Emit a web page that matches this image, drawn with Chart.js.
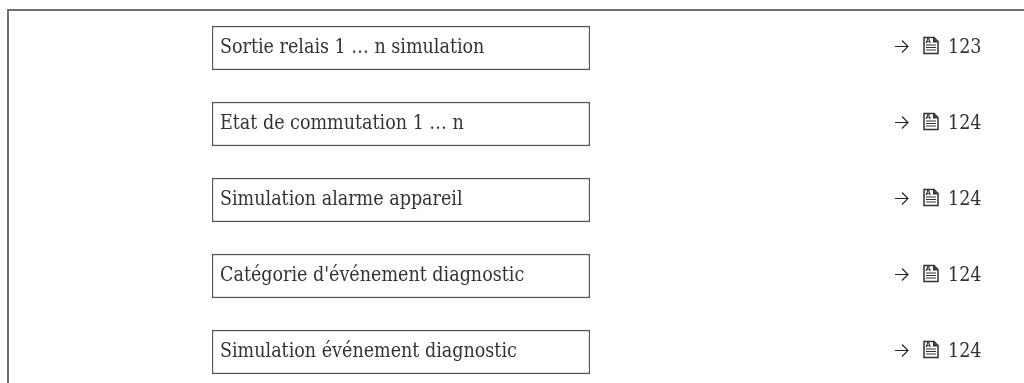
<!DOCTYPE html>
<html>
<head>
<meta charset="utf-8">
<script src="https://cdn.jsdelivr.net/npm/chart.js@4"></script>
<style>
html, body { margin: 0; padding: 0; background: #fff; overflow: hidden; height: 100%; }
#frame { position: absolute; left: 7px; top: 9px; right: 0; bottom: 0; border-left: 2px solid #707070; border-top: 2px solid #707070; }
canvas { position: absolute; left: 0; top: 0; }
</style>
</head>
<body>
<div id="frame"></div>
<!-- last row runs past the window, so the canvas is a bit taller than the page -->
<canvas id="chart1" width="1024" height="390"></canvas>
<script>
'use strict';
var parameters = ['Sortie relais 1 … n simulation', 'Etat de commutation 1 … n', 'Simulation alarme appareil', "Catégorie d'événement diagnostic", 'Simulation événement diagnostic'];
var boxValues = [1, 1, 1, 1, 1];
var pageRefs = [123, 124, 124, 124, 124];

var fontFamily = '"DejaVu Serif Condensed", "DejaVu Serif"';
var fontSize = 19.5;
var textColor = '#333';

var drawArrow = function (ctx, x, y) {
	ctx.strokeStyle = '#222';
	ctx.lineWidth = 1.1;
	ctx.beginPath();
	ctx.moveTo(x, y);
	ctx.lineTo(x + 13, y);
	ctx.moveTo(x + 7, y - 6);
	ctx.lineTo(x + 13, y);
	ctx.lineTo(x + 7, y + 6);
	ctx.stroke();
};

var drawDocIcon = function (ctx, x, y) {
	ctx.save();
	ctx.translate(x, y);
	ctx.strokeStyle = '#333';
	ctx.lineWidth = 1.5;
	ctx.beginPath();
	ctx.moveTo(1, -8);
	ctx.lineTo(11, -8);
	ctx.lineTo(15, -4);
	ctx.lineTo(15, 8);
	ctx.lineTo(1, 8);
	ctx.closePath();
	ctx.stroke();
	// folded corner
	ctx.fillStyle = '#333';
	ctx.beginPath();
	ctx.moveTo(10, -8);
	ctx.lineTo(15, -3);
	ctx.lineTo(10, -3);
	ctx.closePath();
	ctx.fill();
	ctx.lineWidth = 1;
	ctx.beginPath();
	ctx.moveTo(3, -0.5);
	ctx.lineTo(13, -0.5);
	ctx.moveTo(3, 2);
	ctx.lineTo(13, 2);
	ctx.moveTo(3, 4.5);
	ctx.lineTo(13, 4.5);
	ctx.stroke();
	ctx.font = 'bold 7px "DejaVu Sans"';
	ctx.textBaseline = 'alphabetic';
	ctx.textAlign = 'left';
	ctx.fillText('A', 2.5, -2.5);
	ctx.restore();
};

var pageRefPlugin = {
	id: 'pageRefs',
	afterDatasetsDraw: function (chart) {
		var ctx = chart.ctx;
		var yScale = chart.scales.y;
		ctx.save();
		ctx.textBaseline = 'middle';
		ctx.textAlign = 'left';
		for (var i = 0; i < pageRefs.length; i++) {
			var y = yScale.getPixelForValue(i);
			drawArrow(ctx, 895, y - 1.5);
			drawDocIcon(ctx, 923, y - 2.5);
			ctx.font = fontSize + 'px ' + fontFamily;
			ctx.fillStyle = textColor;
			ctx.fillText(String(pageRefs[i]), 948, y);
		}
		ctx.restore();
	}
};

new Chart(document.getElementById('chart1'), {
	type: 'bar',
	data: {
		labels: parameters,
		datasets: [{
			data: boxValues,
			backgroundColor: '#fff',
			borderColor: '#555',
			borderWidth: 1.5,
			borderSkipped: false,
			barThickness: 44
		}]
	},
	options: {
		indexAxis: 'y',
		responsive: false,
		animation: false,
		layout: {
			padding: { left: 212, right: 434, top: 10, bottom: 0 }
		},
		plugins: {
			legend: { display: false },
			tooltip: { enabled: false }
		},
		scales: {
			x: { display: false, min: 0, max: 1 },
			y: {
				grid: { display: false },
				border: { display: false },
				afterFit: function (scale) {
					// keep the mirrored labels from reserving room around the plot
					scale.width = 0;
					scale.paddingTop = 0;
					scale.paddingBottom = 0;
				},
				ticks: {
					mirror: true,
					z: 1,
					padding: 8,
					autoSkip: false,
					color: textColor,
					font: { family: fontFamily, size: fontSize }
				}
			}
		}
	},
	plugins: [pageRefPlugin]
});
</script>
</body>
</html>
